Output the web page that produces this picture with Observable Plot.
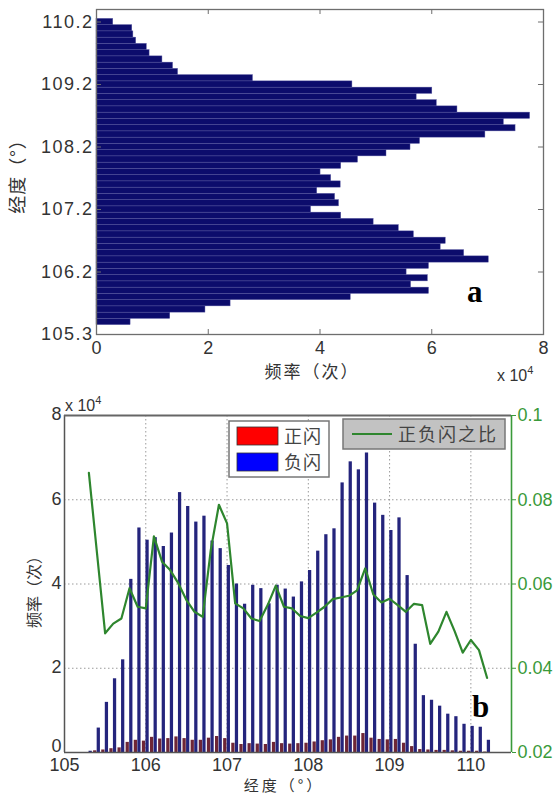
<!DOCTYPE html>
<html><head><meta charset="utf-8">
<script src="https://cdn.jsdelivr.net/npm/d3@7"></script>
<script src="https://cdn.jsdelivr.net/npm/@observablehq/plot@0.6"></script>
<style>
body{margin:0;background:#fff;}
#wrap{position:relative;width:560px;height:795px;overflow:hidden;background:#fff;}
#wrap svg{position:absolute;left:0;}
</style></head><body><div id="wrap"></div>
<script>
// ---------- data ----------
const lon = [105.3,105.4,105.5,105.6,105.7,105.8,105.9,106.0,106.1,106.2,
             106.3,106.4,106.5,106.6,106.7,106.8,106.9,107.0,107.1,107.2,
             107.3,107.4,107.5,107.6,107.7,107.8,107.9,108.0,108.1,108.2,
             108.3,108.4,108.5,108.6,108.7,108.8,108.9,109.0,109.1,109.2,
             109.3,109.4,109.5,109.6,109.7,109.8,109.9,110.0,110.1,110.2];
// panel a: total frequency (x 10^4)
const totalA = [0,0.61,1.32,1.95,2.40,4.55,5.95,5.63,5.93,5.55,
                5.95,7.02,6.58,6.16,6.25,5.68,5.41,4.96,4.38,3.84,
                4.34,4.27,3.95,4.37,4.20,4.01,4.38,4.68,5.19,5.62,
                5.79,6.96,7.50,7.29,7.76,6.46,6.09,5.73,6.01,4.58,
                2.80,1.46,1.37,1.18,0.95,0.90,0.71,0.66,0.64,0.30];
// panel b: negative flashes (x 10^4)
const negB = [0.03,0.58,1.19,1.75,2.20,4.11,5.33,5.04,5.10,4.89,
              5.21,6.17,5.84,5.47,5.61,5.02,4.84,4.44,4.00,3.52,
              3.97,3.89,3.53,3.97,3.88,3.69,4.05,4.32,4.78,5.17,
              5.31,6.40,6.90,6.71,7.11,5.92,5.63,5.27,5.57,4.20,
              2.57,1.35,1.24,1.10,0.91,0.85,0.67,0.62,0.60,0.29];
// panel b: positive flashes (x 10^4)
const posB = [0.00,0.04,0.06,0.09,0.11,0.24,0.29,0.27,0.36,0.32,
              0.33,0.37,0.33,0.29,0.29,0.34,0.38,0.33,0.22,0.19,
              0.21,0.20,0.19,0.24,0.21,0.20,0.21,0.22,0.25,0.28,
              0.30,0.36,0.39,0.39,0.45,0.34,0.31,0.30,0.31,0.22,
              0.14,0.07,0.06,0.05,0.05,0.04,0.03,0.03,0.03,0.01];
// panel b: ratio positive/negative
const ratioB = [0.0864,0.0673,0.0483,0.0506,0.0518,0.0590,0.0546,0.0542,0.0713,0.0653,
                0.0633,0.0602,0.0562,0.0534,0.0522,0.0681,0.0788,0.0744,0.0554,0.0542,
                0.0518,0.0512,0.0550,0.0596,0.0546,0.0542,0.0524,0.0519,0.0532,0.0546,
                0.0564,0.0568,0.0572,0.0585,0.0637,0.0575,0.0556,0.0565,0.0550,0.0534,
                0.0553,0.0550,0.0458,0.0487,0.0534,0.0488,0.0437,0.0467,0.0443,0.0377];
const xTicksA = [0,2,4,6,8];
const yTickPosA = [105.2,106.2,107.2,108.2,109.2,110.2];
const yTickLabelsA = ["105.3","106.2","107.2","108.2","109.2","110.2"];
const xTicksB = [105,106,107,108,109,110];
const yTicksB = [0,2,4,6,8];
const rightTicksB = [0.02,0.04,0.06,0.08,0.1];
const rightLabelsB = ["0.02","0.04","0.06","0.08","0.1"];
const seriesNames = ["正闪","负闪"];
const ratioName = "正负闪之比";
const axisLabelLon = "经度（°）";
const axisLabelFreq = "频率（次）";

// ---------- build ----------
const wrap = document.getElementById("wrap");
const numFont = "'Liberation Sans', Arial, sans-serif";
const cjkFont = "'Noto Sans CJK SC', sans-serif";

const dataA = lon.map((l,i)=>({lon:l, v:totalA[i]}));
const yDomA = [105.2, 110.4];
const plotA = Plot.plot({
  width: 560, height: 390,
  marginTop: 9, marginBottom: 56, marginLeft: 96, marginRight: 17,
  style: {fontFamily: numFont, fontSize: "18px", color: "#333", background: "transparent", overflow: "visible"},
  x: {domain: [0, 8]},
  y: {domain: yDomA},
  marks: [
    Plot.rectX(dataA, {x1: 0, x2: "v", y1: d => d.lon - 0.05, y2: d => d.lon + 0.05,
      fill: "#0c0c6c", stroke: "#5656a0", strokeWidth: 0.45}),
    Plot.frame({stroke: "#6e6e6e", strokeWidth: 1.3}),
    Plot.ruleX(xTicksA.slice(1, -1), {y1: yDomA[0], y2: yDomA[0] + 0.08, stroke: "#6e6e6e"}),
    Plot.ruleX(xTicksA.slice(1, -1), {y1: yDomA[1], y2: yDomA[1] - 0.08, stroke: "#6e6e6e"}),
    Plot.ruleY(yTickPosA.slice(1), {x1: 0, x2: 0.09, stroke: "#6e6e6e"}),
    Plot.ruleY(yTickPosA.slice(1), {x1: 8, x2: 7.91, stroke: "#6e6e6e"}),
    Plot.axisX(xTicksA, {anchor: "bottom", tickSize: 0, tickPadding: 7, label: null, tickFormat: d => String(d)}),
    Plot.axisY(yTickPosA, {anchor: "left", tickSize: 0, tickPadding: 3, label: null, fontSize: 18,
      tickFormat: d => yTickLabelsA[yTickPosA.indexOf(d)]})
  ]
});
plotA.style.top = "0px";
d3.select(plotA).selectAll("[aria-label='y-axis tick label'] text").style("letter-spacing", "1.5px");
wrap.appendChild(plotA);

const dataB = lon.map((l,i)=>({lon:l, neg:negB[i], pos:posB[i], ratio:ratioB[i]}));
const xDomB = [105, 110.5];
const yDomB = [0, 8];
// map ratio (right axis 0.02..0.1) onto the left axis range (0..8)
const rToY = r => (r - rightTicksB[0]) / (rightTicksB[rightTicksB.length-1] - rightTicksB[0]) * (yDomB[1] - yDomB[0]);
const green = "#3a9a3a";
const plotB = Plot.plot({
  width: 560, height: 405,
  marginTop: 25, marginBottom: 43, marginLeft: 64, marginRight: 49,
  style: {fontFamily: numFont, fontSize: "18px", color: "#333", background: "transparent", overflow: "visible"},
  x: {domain: xDomB},
  y: {domain: yDomB},
  marks: [
    Plot.ruleX(xTicksB.slice(1), {stroke: "#9a9a9a", strokeDasharray: "1.5,2.5", strokeWidth: 1}),
    Plot.ruleY(yTicksB.slice(1, -1), {stroke: "#9a9a9a", strokeDasharray: "1.5,2.5", strokeWidth: 1}),
    Plot.rectY(dataB, {x1: d => d.lon - 0.042, x2: d => d.lon - 0.002, y1: 0, y2: "pos", fill: "#6e2636"}),
    Plot.rectY(dataB, {x1: d => d.lon + 0.002, x2: d => d.lon + 0.042, y1: 0, y2: "neg", fill: "#24247c"}),
    Plot.line(dataB, {x: "lon", y: d => rToY(d.ratio), stroke: "#2e862e", strokeWidth: 2.2}),
    Plot.ruleX([xDomB[0]], {stroke: "#555", strokeWidth: 1.5}),
    Plot.ruleY([yDomB[0]], {stroke: "#555", strokeWidth: 1.5}),
    Plot.ruleY([yDomB[1]], {stroke: "#666", strokeWidth: 2.2}),
    Plot.ruleX([xDomB[1]], {stroke: green, strokeWidth: 1.6}),
    Plot.axisX(xTicksB, {anchor: "bottom", tickSize: 0, tickPadding: 6, label: null, fontSize: 18, tickFormat: d => String(d)}),
    Plot.axisY(yTicksB.slice(1), {anchor: "left", tickSize: 0, tickPadding: 3, label: null, dy: -1, tickFormat: d => String(d)}),
    Plot.axisY(yTicksB.slice(0, 1), {anchor: "left", tickSize: 0, tickPadding: 3, label: null, dy: -6, tickFormat: d => String(d)}),
    Plot.axisY(rightTicksB.map(rToY), {anchor: "right", tickSize: 4, tickPadding: 2, label: null, color: green,
      tickFormat: d => rightLabelsB[rightTicksB.map(rToY).indexOf(d)]})
  ]
});
plotB.style.top = "390px";
wrap.appendChild(plotB);

// ---------- overlay: labels, legends ----------
const ov = d3.select(wrap).append("svg")
  .attr("width", 560).attr("height", 795).style("top", "0px");

function txt(x, y, s, opts = {}) {
  const t = ov.append("text").attr("x", x).attr("y", y)
    .attr("font-family", opts.family || cjkFont)
    .attr("font-size", opts.size || 17)
    .attr("font-weight", opts.weight || "normal")
    .attr("fill", opts.fill || "#333")
    .attr("text-anchor", opts.anchor || "start")
    .style("letter-spacing", opts.ls || "0px")
    .text(s);
  if (opts.rotate) t.attr("transform", `rotate(${opts.rotate},${x},${y})`);
  return t;
}
function times10(x, y) {
  const t = ov.append("text").attr("x", x).attr("y", y)
    .attr("font-family", numFont).attr("font-size", 16).attr("fill", "#333");
  t.append("tspan").text("x 10");
  t.append("tspan").attr("dy", -7).attr("font-size", 11).text("4");
}

// panel a
txt(312, 378, axisLabelFreq, {anchor: "middle", size: 17, ls: "2px"});
txt(24, 172, axisLabelLon, {anchor: "middle", size: 18, rotate: -90, ls: "1px"});
times10(497, 381);
txt(467, 302, "a", {family: "'Liberation Serif', 'Times New Roman', serif", size: 31, weight: "bold", fill: "#000"});

// panel b
times10(65, 411);
txt(284, 791, axisLabelLon, {anchor: "middle", size: 15, ls: "3px"});
txt(40, 588, axisLabelFreq, {anchor: "middle", size: 16, rotate: -90});
txt(472, 717, "b", {family: "'Liberation Serif', 'Times New Roman', serif", size: 31, weight: "bold", fill: "#000"});

// legend 1
ov.append("rect").attr("x", 229).attr("y", 421).attr("width", 100).attr("height", 56)
  .attr("fill", "#fff").attr("stroke", "#777").attr("stroke-width", 1.5);
const swatch = ["#ff0000", "#0000ff"];
seriesNames.forEach((n, i) => {
  ov.append("rect").attr("x", 237).attr("y", 427 + i * 26).attr("width", 41).attr("height", 18)
    .attr("fill", swatch[i]).attr("stroke", "#333").attr("stroke-width", 0.8);
  txt(284, 443 + i * 26, n, {size: 18, fill: "#444", ls: "1px"});
});
// legend 2
ov.append("rect").attr("x", 343).attr("y", 419).attr("width", 162).attr("height", 30)
  .attr("fill", "#c2c2c2").attr("stroke", "#777").attr("stroke-width", 1.5);
ov.append("line").attr("x1", 352).attr("x2", 392).attr("y1", 434).attr("y2", 434)
  .attr("stroke", "#2e862e").attr("stroke-width", 2);
txt(398, 441, ratioName, {size: 18, fill: "#444", ls: "2px"});
</script></body></html>
